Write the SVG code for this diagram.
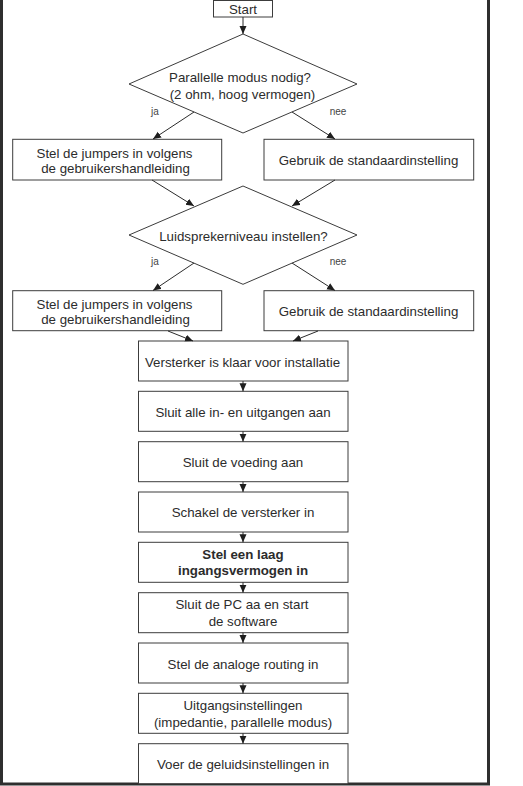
<svg xmlns="http://www.w3.org/2000/svg" width="523" height="786" viewBox="0 0 523 786">
  <defs>
    <marker id="arrow" markerUnits="userSpaceOnUse" markerWidth="9" markerHeight="8" refX="8" refY="3.5" orient="auto">
      <path d="M0,0 L8,3.5 L0,7 Z" fill="#1e1e1e"/>
    </marker>
    <style>
      .box { fill: #fff; stroke: #3c3c3c; stroke-width: 1; }
      .frame { fill: none; stroke: #2e2e2e; stroke-width: 3; }
      .lbl { font-family: "Liberation Sans", Arial, sans-serif; font-size: 13.3px; fill: #2c2c2c; text-anchor: middle; }
      .bold { font-weight: bold; }
      .branch { font-family: "Liberation Sans", Arial, sans-serif; font-size: 10px; fill: #444; text-anchor: middle; }
      .conn { fill: none; stroke: #2c2c2c; stroke-width: 1; marker-end: url(#arrow); }
    </style>
  </defs>
  <rect width="523" height="786" fill="#fff"/>

  <!-- page frame -->
  <rect class="frame" x="1.5" y="-10" width="487" height="794"/>

  <!-- branch labels -->
  <g id="branch-labels">
    <text class="branch" x="155" y="114.5">ja</text>
    <text class="branch" x="338" y="114.5">nee</text>
    <text class="branch" x="155" y="265">ja</text>
    <text class="branch" x="338" y="265">nee</text>
  </g>

  <g id="start">
    <rect class="box" x="213.5" y="0.5" width="59" height="16.5"/>
    <text class="lbl" x="243" y="13.5">Start</text>
  </g>

  <g id="decision-parallel">
    <polygon class="box" points="243,34 357,84 243,133 129,84"/>
    <text class="lbl" x="240" y="81.5">Parallelle modus nodig?</text>
    <text class="lbl" x="242.5" y="98.5">(2 ohm, hoog vermogen)</text>
  </g>

  <g id="jumpers-1">
    <rect class="box" x="12.7" y="139.3" width="209" height="40.7"/>
    <text class="lbl" x="114.5" y="157.5">Stel de jumpers in volgens</text>
    <text class="lbl" x="115.5" y="173">de gebruikershandleiding</text>
  </g>

  <g id="default-1">
    <rect class="box" x="264" y="139.3" width="209.7" height="40.7"/>
    <text class="lbl" x="368.5" y="165">Gebruik de standaardinstelling</text>
  </g>

  <g id="decision-level">
    <polygon class="box" points="243,186 357,235 243,284.3 129,235"/>
    <text class="lbl" x="243.5" y="240.5">Luidsprekerniveau instellen?</text>
  </g>

  <g id="jumpers-2">
    <rect class="box" x="12.7" y="290.7" width="209" height="40"/>
    <text class="lbl" x="114.5" y="308.5">Stel de jumpers in volgens</text>
    <text class="lbl" x="115.5" y="324">de gebruikershandleiding</text>
  </g>

  <g id="default-2">
    <rect class="box" x="264" y="290.7" width="209.7" height="40"/>
    <text class="lbl" x="368.5" y="316">Gebruik de standaardinstelling</text>
  </g>

  <g id="ready">
    <rect class="box" x="138.5" y="341" width="209.5" height="40"/>
    <text class="lbl" x="242.5" y="366.5">Versterker is klaar voor installatie</text>
  </g>

  <g id="connect-io">
    <rect class="box" x="138.5" y="391.3" width="209.5" height="40"/>
    <text class="lbl" x="243" y="416.5">Sluit alle in- en uitgangen aan</text>
  </g>

  <g id="connect-power">
    <rect class="box" x="138.5" y="441.7" width="209.5" height="40"/>
    <text class="lbl" x="243" y="467">Sluit de voeding aan</text>
  </g>

  <g id="power-on">
    <rect class="box" x="138.5" y="492" width="209.5" height="40"/>
    <text class="lbl" x="243" y="517">Schakel de versterker in</text>
  </g>

  <g id="low-input">
    <rect class="box" x="138.5" y="542.3" width="209.5" height="40"/>
    <text class="lbl bold" x="243" y="558.5">Stel een laag</text>
    <text class="lbl bold" x="243" y="575">ingangsvermogen in</text>
  </g>

  <g id="connect-pc">
    <rect class="box" x="138.5" y="592.7" width="209.5" height="40"/>
    <text class="lbl" x="242" y="609">Sluit de PC aa en start</text>
    <text class="lbl" x="243" y="625.5">de software</text>
  </g>

  <g id="analog-routing">
    <rect class="box" x="138.5" y="643" width="209.5" height="40"/>
    <text class="lbl" x="243" y="668.5">Stel de analoge routing in</text>
  </g>

  <g id="output-settings">
    <rect class="box" x="138.5" y="693.3" width="209.5" height="40"/>
    <text class="lbl" x="243" y="710">Uitgangsinstellingen</text>
    <text class="lbl" x="243" y="727">(impedantie, parallelle modus)</text>
  </g>

  <g id="sound-settings">
    <rect class="box" x="138.5" y="743.7" width="209.5" height="40"/>
    <text class="lbl" x="243" y="769">Voer de geluidsinstellingen in</text>
  </g>

  <!-- connectors, drawn last so arrowheads sit on top of outlines -->
  <g id="connectors">
    <line class="conn" x1="243" y1="17" x2="243" y2="34"/>
    <line class="conn" x1="194" y1="112" x2="153" y2="139"/>
    <line class="conn" x1="292" y1="112" x2="335" y2="139"/>
    <line class="conn" x1="152" y1="180" x2="194" y2="206"/>
    <line class="conn" x1="335" y1="180" x2="292" y2="206"/>
    <line class="conn" x1="194" y1="263" x2="153" y2="290.5"/>
    <line class="conn" x1="292" y1="263" x2="335" y2="290.5"/>
    <line class="conn" x1="168" y1="331" x2="193" y2="341"/>
    <line class="conn" x1="318" y1="331" x2="293" y2="341"/>
    <line class="conn" x1="243" y1="381" x2="243" y2="391.3"/>
    <line class="conn" x1="243" y1="431.3" x2="243" y2="441.7"/>
    <line class="conn" x1="243" y1="481.7" x2="243" y2="492"/>
    <line class="conn" x1="243" y1="532" x2="243" y2="542.3"/>
    <line class="conn" x1="243" y1="582.3" x2="243" y2="592.7"/>
    <line class="conn" x1="243" y1="632.7" x2="243" y2="643"/>
    <line class="conn" x1="243" y1="683" x2="243" y2="693.3"/>
    <line class="conn" x1="243" y1="733.3" x2="243" y2="743.7"/>
  </g>
</svg>
